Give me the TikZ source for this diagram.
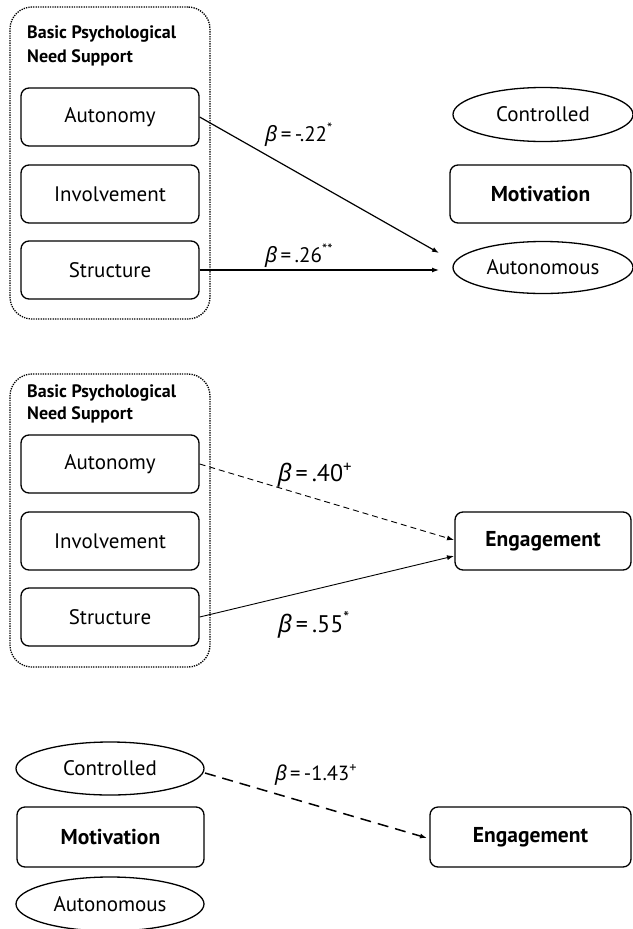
\documentclass[tikz,border=0pt]{standalone}
\usepackage{fontspec}
\setmainfont{PT Sans}
\newfontfamily\grkfont{Noto Sans}
\usetikzlibrary{arrows.meta,shapes.geometric}
\newcommand\betasym{{\grkfont\itshape β}}
\begin{document}
\begin{tikzpicture}[x=1pt,y=-1pt,
  itembox/.style={draw,rounded corners=8pt,line width=1.3pt,minimum width=178pt,minimum height=58pt,inner sep=0pt,font=\fontsize{21}{24}\selectfont},
  oval/.style={draw,ellipse,line width=1.3pt,minimum width=180pt,minimum height=54pt,inner sep=0pt,font=\fontsize{21}{24}\selectfont},
  strong/.style={font=\bfseries\fontsize{21.5}{24}\selectfont},
  panel/.style={draw,rounded corners=22pt,line width=1.3pt,dash pattern=on 1.3pt off 1.1pt,minimum width=200pt,inner sep=0pt},
  grouptitle/.style={anchor=base west,inner sep=0pt,font=\bfseries\fontsize{18}{20}\selectfont},
  link/.style={line width=1.2pt,-{Latex[length=7pt,width=5pt]}},
  coef/.style={inner sep=0pt,font=\fontsize{21}{23}\selectfont},
]
\useasboundingbox (0,0) rectangle (632,929);

% ---- Need support -> motivation
\node[panel,minimum height=312pt] (grp1) at (110,163) {};
\node[grouptitle] (ttl1a) at (27,38) {Basic Psychological};
\node[grouptitle] (ttl1b) at (27,62) {Need Support};
\node[itembox] (aut1) at (110,117) {Autonomy};
\node[itembox] (inv1) at (110,194) {Involvement};
\node[itembox] (str1) at (110,270) {Structure};
\node[oval] (ctl1) at (543,114.5) {Controlled};
\node[itembox,strong,minimum width=181pt] (mot1) at (540.5,194) {Motivation};
\node[oval,minimum height=52pt] (aun1) at (543,267.5) {Autonomous};
\coordinate (t1a) at (439,253);
\coordinate (t1b) at (439,270);
\draw[link] (aut1.east) -- (t1a);
\draw[link] (str1.east) -- (t1b);
\node[coef] (c1a) at (299,135) {\betasym\,=\,-.22\textsuperscript{*}};
\node[coef] (c1b) at (299,256) {\betasym\,=\,.26\textsuperscript{**}};

% ---- Need support -> engagement
\node[panel,minimum height=293pt] (grp2) at (110,520.5) {};
\node[grouptitle] (ttl2a) at (27,397) {Basic Psychological};
\node[grouptitle] (ttl2b) at (27,419) {Need Support};
\node[itembox] (aut2) at (110,464) {Autonomy};
\node[itembox] (inv2) at (110,541) {Involvement};
\node[itembox] (str2) at (110,617) {Structure};
\node[itembox,strong,minimum width=176pt] (eng2) at (543,541) {Engagement};
\coordinate (t2a) at (454,540);
\coordinate (t2b) at (454,556);
\draw[link,line width=0.9pt,dash pattern=on 6pt off 4pt] (aut2.east) -- (t2a);
\draw[link,line width=0.9pt] (str2.east) -- (t2b);
\node[coef,font=\fontsize{24}{26}\selectfont] (c2a) at (315,475) {\betasym\,=\,.40\textsuperscript{+}};
\node[coef,font=\fontsize{24}{26}\selectfont] (c2b) at (314,625) {\betasym\,=\,.55\textsuperscript{*}};

% ---- Motivation -> engagement
\node[oval,minimum width=188pt,minimum height=53pt] (ctl3) at (110,768.5) {Controlled};
\node[itembox,strong,minimum width=187pt,minimum height=60pt] (mot3) at (110.5,837) {Motivation};
\node[oval,minimum width=188pt,minimum height=54pt] (aun3) at (110,904) {Autonomous};
\node[itembox,strong,minimum width=201pt,minimum height=60pt] (eng3) at (530.5,837) {Engagement};
\coordinate (s3) at (205,773);
\coordinate (t3) at (427,838);
\draw[link,line width=1.5pt,dash pattern=on 11pt off 7pt] (s3) -- (t3);
\node[coef,font=\fontsize{20.5}{22}\selectfont] (c3) at (316,775) {\betasym\,=\,-1.43\textsuperscript{+}};
\end{tikzpicture}
\end{document}
